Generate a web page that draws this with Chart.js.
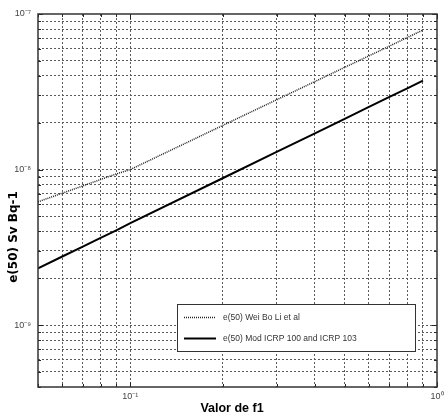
<!DOCTYPE html>
<html><head><meta charset="utf-8">
<script src="https://cdn.jsdelivr.net/npm/chart.js@4"></script>
<style>html,body{margin:0;padding:0;background:#fff;}#wrap{width:448px;height:417px;position:relative;}</style>
</head><body><div id="wrap"><canvas id="c" width="448" height="417"></canvas></div>
<script>
// ---- data ----
const f1Values = [0.05, 0.06, 0.07, 0.08, 0.09, 0.1, 0.2, 0.3, 0.4, 0.5, 0.6, 0.7, 0.8, 0.9];
const weiBoLi  = [6.2e-9, 7.05e-9, 7.85e-9, 8.63e-9, 9.37e-9, 1.0e-8, 1.92e-8, 2.81e-8, 3.68e-8, 4.54e-8, 5.38e-8, 6.22e-8, 7.06e-8, 7.89e-8];
const modICRP  = [2.32e-9, 2.76e-9, 3.20e-9, 3.64e-9, 4.07e-9, 4.52e-9, 8.79e-9, 1.30e-8, 1.71e-8, 2.12e-8, 2.53e-8, 2.93e-8, 3.33e-8, 3.73e-8];
const seriesLabels = ['e(50) Wei Bo Li et al', 'e(50) Mod ICRP 100 and ICRP 103'];
const xTickValues = [0.05, 0.06, 0.07, 0.08, 0.09, 0.1, 0.2, 0.3, 0.4, 0.5, 0.6, 0.7, 0.8, 0.9, 1];
const yTickValues = [4e-10, 5e-10, 6e-10, 7e-10, 8e-10, 9e-10, 1e-9, 2e-9, 3e-9, 4e-9, 5e-9, 6e-9, 7e-9, 8e-9, 9e-9,
                     1e-8, 2e-8, 3e-8, 4e-8, 5e-8, 6e-8, 7e-8, 8e-8, 9e-8, 1e-7];
const xTickLabels = [[0.1, '10\u207B\u00B9'], [1, '10\u2070']];
const yTickLabels = [[1e-9, '10\u207B\u2079'], [1e-8, '10\u207B\u2078'], [1e-7, '10\u207B\u2077']];
const xTitle = 'Valor de f1';
const yTitle = 'e(50) Sv Bq-1';

function near(a, b) { return Math.abs(Math.log10(a) - Math.log10(b)) < 1e-6; }
function labelFor(list, v) { const f = list.find(p => near(p[0], v)); return f ? f[1] : ''; }
function isMajor(v) { return Math.abs(Math.log10(v) - Math.round(Math.log10(v))) < 1e-6; }

const GRID = '#5a5a5a';

const decor = {
  id: 'decor',
  afterDraw(chart) {
    const ctx = chart.ctx, a = chart.chartArea;
    const xs = chart.scales.x, ys = chart.scales.y;
    ctx.save();
    // inward tick marks
    ctx.strokeStyle = '#222'; ctx.lineWidth = 1; ctx.setLineDash([]);
    xTickValues.forEach(v => {
      const px = Math.round(xs.getPixelForValue(v)) + 0.5;
      const L = isMajor(v) ? 5 : 3;
      ctx.beginPath(); ctx.moveTo(px, a.bottom); ctx.lineTo(px, a.bottom - L);
      ctx.moveTo(px, a.top); ctx.lineTo(px, a.top + L); ctx.stroke();
    });
    yTickValues.forEach(v => {
      const py = Math.round(ys.getPixelForValue(v)) + 0.5;
      const L = isMajor(v) ? 5 : 3;
      ctx.beginPath(); ctx.moveTo(a.left, py); ctx.lineTo(a.left + L, py);
      ctx.moveTo(a.right, py); ctx.lineTo(a.right - L, py); ctx.stroke();
    });
    // plot box
    ctx.strokeStyle = '#333'; ctx.lineWidth = 1.5;
    ctx.strokeRect(a.left, a.top, a.right - a.left, a.bottom - a.top);
    // axis titles
    ctx.fillStyle = '#000';
    ctx.font = 'bold 12.5px "Liberation Sans", Arial, sans-serif';
    ctx.textAlign = 'center'; ctx.textBaseline = 'alphabetic';
    ctx.fillText(xTitle, 232, 412);
    ctx.save();
    ctx.translate(18, 237); ctx.rotate(-Math.PI / 2);
    ctx.font = 'bold 12px "DejaVu Sans", sans-serif';
    ctx.textBaseline = 'middle';
    ctx.fillText(yTitle, 0, -4);
    ctx.restore();
    // legend
    const lx = 177, ly = 304, lw = 238, lh = 47;
    ctx.fillStyle = '#fff'; ctx.fillRect(lx, ly, lw, lh);
    ctx.strokeStyle = '#333'; ctx.lineWidth = 1; ctx.strokeRect(lx + 0.5, ly + 0.5, lw, lh);
    const rows = [317, 338];
    chart.data.datasets.forEach((ds, i) => {
      ctx.save();
      ctx.strokeStyle = ds.borderColor; ctx.lineWidth = ds.borderWidth;
      ctx.setLineDash(ds.borderDash || []);
      ctx.beginPath(); ctx.moveTo(184, rows[i] + 0.5); ctx.lineTo(216, rows[i] + 0.5); ctx.stroke();
      ctx.restore();
      ctx.fillStyle = '#333';
      ctx.font = '8.5px "Liberation Sans", Arial, sans-serif';
      ctx.textAlign = 'left'; ctx.textBaseline = 'middle';
      ctx.fillText(ds.label, 223, rows[i] + 0.5);
    });
    ctx.restore();
  }
};

const gridColor = (ctx) => {
  const v = ctx.tick && ctx.tick.value;
  if (v === undefined) return 'rgba(0,0,0,0)';
  const s = ctx.scale;
  if (near(v, s.min) || near(v, s.max)) return 'rgba(0,0,0,0)';
  return GRID;
};

new Chart(document.getElementById('c'), {
  type: 'line',
  data: {
    datasets: [
      { label: seriesLabels[0], data: f1Values.map((x, i) => ({ x, y: weiBoLi[i] })),
        borderColor: '#222', borderWidth: 1.5, borderDash: [1, 1], pointRadius: 0, fill: false, tension: 0 },
      { label: seriesLabels[1], data: f1Values.map((x, i) => ({ x, y: modICRP[i] })),
        borderColor: '#000', borderWidth: 2, pointRadius: 0, fill: false, tension: 0 }
    ]
  },
  options: {
    responsive: false, animation: false, devicePixelRatio: 1,
    layout: { padding: { top: 14, right: 11, left: 0, bottom: 0 } },
    plugins: { legend: { display: false }, tooltip: { enabled: false } },
    scales: {
      x: {
        type: 'logarithmic', min: 0.05, max: 1,
        afterBuildTicks: s => { s.ticks = xTickValues.map(v => ({ value: v })); },
        afterFit: s => { s.height = 30; },
        ticks: { autoSkip: false, maxRotation: 0, minRotation: 0, padding: 4, color: '#444',
                 font: { size: 9, family: '"Liberation Sans", Arial, sans-serif' },
                 callback: v => labelFor(xTickLabels, v) },
        grid: { color: gridColor, lineWidth: 1, drawTicks: false },
        border: { display: false, dash: [2, 2] }
      },
      y: {
        type: 'logarithmic', min: 4e-10, max: 1e-7,
        afterBuildTicks: s => { s.ticks = yTickValues.map(v => ({ value: v })); },
        afterFit: s => { s.width = 38; },
        ticks: { autoSkip: false, padding: 7, color: '#444',
                 font: { size: 9, family: '"Liberation Sans", Arial, sans-serif' },
                 callback: v => labelFor(yTickLabels, v) },
        grid: { color: gridColor, lineWidth: 1, drawTicks: false },
        border: { display: false, dash: [2, 2] }
      }
    }
  },
  plugins: [decor]
});
</script></body></html>
